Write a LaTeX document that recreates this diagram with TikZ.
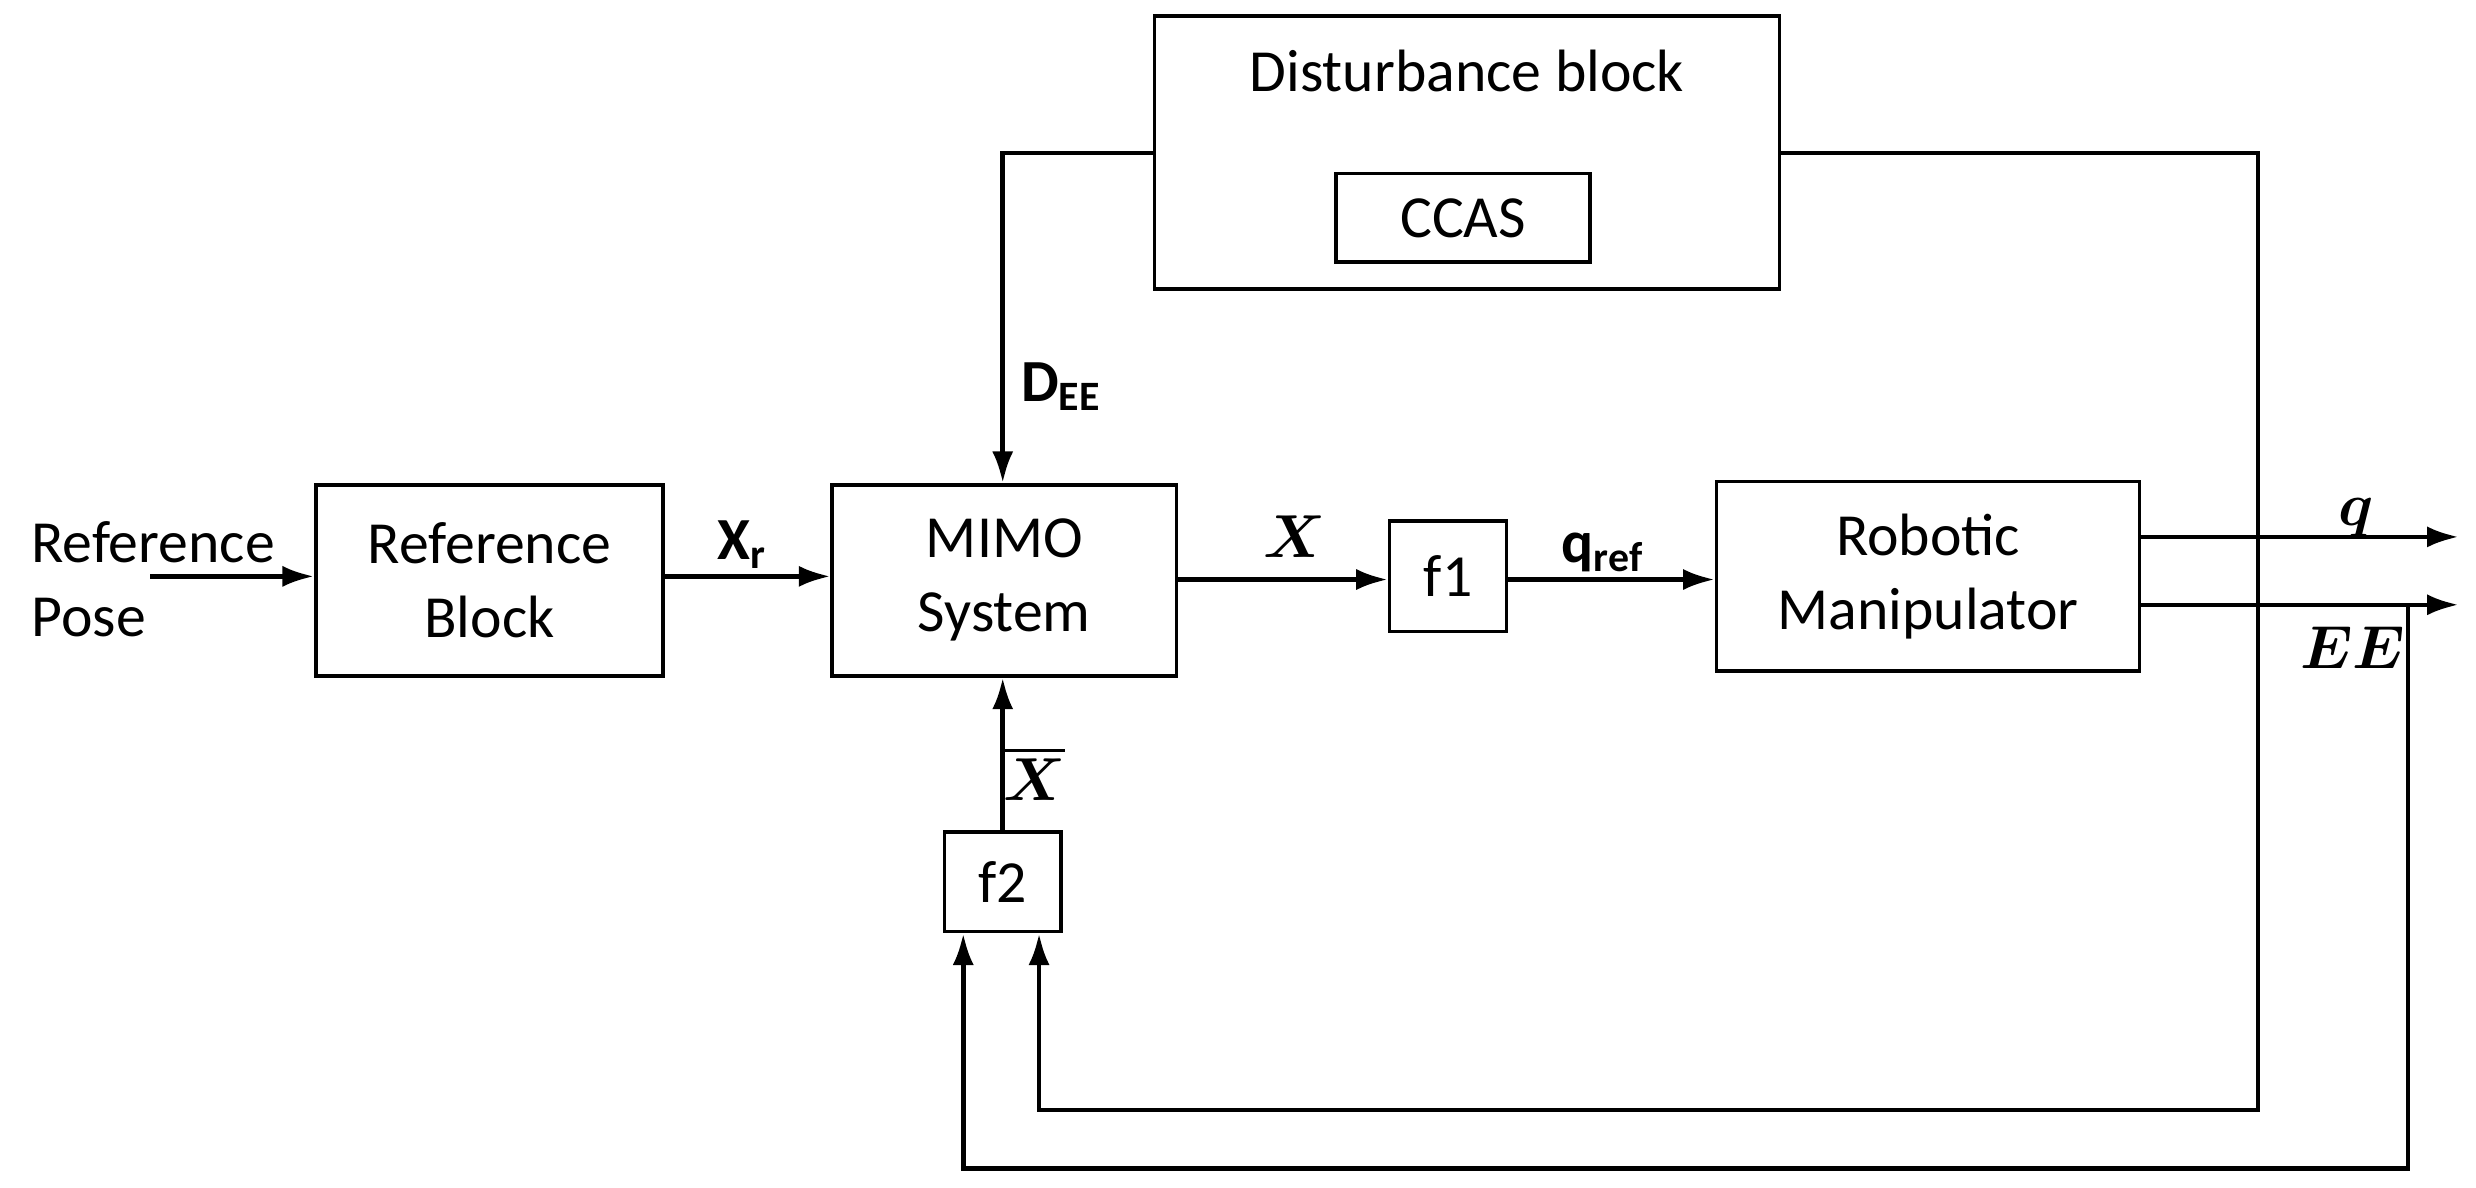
\documentclass[tikz,border=0pt]{standalone}
\usepackage{fontspec}
\usepackage{amsmath,bm}
\setmainfont{Carlito}
\usetikzlibrary{arrows.meta,fit}
\begin{document}
\begin{tikzpicture}[x=0.01579cm,y=-0.01579cm,
  blk/.style={draw,line width=1pt,inner sep=0pt},
  txt/.style={font=\fontsize{17}{21}\selectfont,align=center,inner sep=0pt},
  lbl/.style={font=\fontsize{17}{21}\selectfont,inner sep=0pt},
  ar/.style={line width=1.3pt,-{Latex[length=9pt,width=6pt]}},
  ln/.style={line width=1.3pt}]
\useasboundingbox (0,0) rectangle (1568,752);
\node[blk,fit={(731,10) (1127,183)}] (dist) {};
\node[txt] (dt) at (929,45) {Disturbance block};
\node[blk,fit={(846,110) (1007,166)}] (ccas) {};
\node[txt] at (ccas.center) {CCAS};
\node[blk,fit={(200,307) (420,428)}] (ref) {};
\node[txt] at (ref.center) {Reference\\Block};
\node[blk,fit={(527,307) (745,428)}] (mimo) {};
\node[txt] at (mimo.center) {MIMO\\System};
\node[blk,fit={(880,330) (954,400)}] (f1) {};
\node[txt] at (f1.center) {f1};
\node[blk,fit={(1087,305) (1355,425)}] (rob) {};
\node[txt] at (rob.center) {Robotic\\Manipulator};
\node[blk,fit={(598,527) (672,590)}] (f2) {};
\node[txt] at (f2.center) {f2};
\node[txt,align=left] (rp) at (97,367) {Reference\\Pose};
\coordinate (rpa) at (95,365);
\draw[ar] (rpa) -- (ref.west |- rpa);
\draw[ar] (ref.east |- 0,365) -- (mimo.west |- 0,365);
\draw[ar] (mimo.east |- 0,367) -- (f1.west |- 0,367);
\draw[ar] (f1.east |- 0,367) -- (rob.west |- 0,367);
\coordinate (dl) at (635,97);
\draw[ar] (dist.west |- dl) -- (dl) -- (dl |- mimo.north);
\coordinate (dr) at (1430,97);
\coordinate (dr2) at (1430,703);
\coordinate (b1) at (658,703);
\coordinate (b2) at (610,740);
\coordinate (fx) at (635,0);
\draw[ar] (dist.east |- dr) -- (dr) -- (dr2) -- (b1) -- (b1 |- f2.south);
\coordinate (qe) at (1557,340);
\draw[ar] (rob.east |- qe) -- (qe);
\coordinate (ee) at (1557,383);
\draw[ar] (rob.east |- ee) -- (ee);
\draw[ar] (1525,383) -- (1525,740) -- (b2) -- (b2 |- f2.south);
\draw[ar] (f2.north -| fx) -- (mimo.south -| fx);
\node[lbl] (lxr) at (470,345) {$\mathbf{X_r}$};
\node[lbl] (lx) at (820,340) {$\bm{X}$};
\node[lbl] (lq) at (1015,350) {$\mathbf{q_{ref}}$};
\node[lbl] (lde) at (672,245) {$\mathbf{D_{EE}}$};
\node[lbl] (lxb) at (655,490) {$\bm{\overline{X}}$};
\node[lbl] (lqq) at (1492,328) {$\bm{q}$};
\node[lbl] (lee) at (1490,410) {$\bm{EE}$};
\end{tikzpicture}
\end{document}
